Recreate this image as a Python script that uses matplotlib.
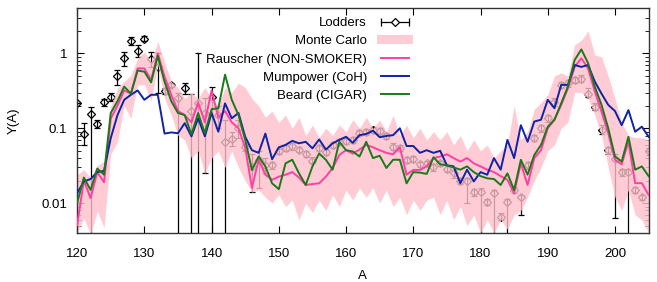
import numpy as np
import matplotlib
matplotlib.use('Agg')
import matplotlib.pyplot as plt
from matplotlib.lines import Line2D
from matplotlib.patches import Patch
from matplotlib.legend_handler import HandlerLine2D

plt.rcParams['font.family'] = ['Liberation Sans', 'DejaVu Sans']

# mass number A = 120 ... 205
A = np.arange(120, 206)

rauscher = [0.0051, 0.020, 0.0117, 0.026, 0.019, 0.135, 0.20, 0.32, 0.29, 0.63,
            0.63, 0.44, 1.0, 0.49, 0.28, 0.17, 0.15, 0.12, 0.22, 0.12,
            0.32, 0.14, 0.17, 0.12, 0.10,
            0.055, 0.016, 0.038, 0.024, 0.0205, 0.0226, 0.024, 0.026, 0.022, 0.0175,
            0.018, 0.0184, 0.0226, 0.0295, 0.044, 0.051, 0.046, 0.052, 0.06, 0.0557,
            0.051, 0.047, 0.045, 0.0557, 0.024, 0.0278, 0.0278, 0.031,
            0.04, 0.042, 0.045, 0.04, 0.036, 0.04, 0.034, 0.031, 0.028, 0.026,
            0.023, 0.0205, 0.0137, 0.034, 0.0175, 0.04, 0.051, 0.1, 0.13, 0.205,
            0.34, 0.66, 0.86, 0.63, 0.31, 0.167, 0.086, 0.038, 0.033, 0.066,
            0.0185, 0.0185, 0.0129]

mumpower = [0.0136, 0.0195, 0.021, 0.026, 0.027, 0.074, 0.15, 0.24, 0.28, 0.32,
            0.24, 0.28, 0.28, 0.085, 0.088, 0.086, 0.117, 0.078, 0.136, 0.078,
            0.16, 0.09, 0.215, 0.136, 0.16,
            0.077, 0.051, 0.047, 0.085, 0.0386, 0.0557, 0.06, 0.068, 0.063, 0.066,
            0.054, 0.071, 0.052, 0.063, 0.07, 0.077, 0.064, 0.081, 0.084, 0.093,
            0.076, 0.079, 0.081, 0.1, 0.058, 0.058, 0.047, 0.051,
            0.047, 0.05, 0.032, 0.031, 0.0185, 0.028, 0.0195, 0.026, 0.024, 0.040,
            0.028, 0.07, 0.040, 0.11, 0.066, 0.123, 0.13, 0.24, 0.185, 0.38,
            0.38, 0.70, 0.66, 0.70, 0.42, 0.29, 0.205, 0.17, 0.11, 0.175,
            0.09, 0.105, 0.077]

beard = [0.010, 0.022, 0.015, 0.029, 0.024, 0.16, 0.23, 0.36, 0.29, 0.59,
         0.57, 0.41, 0.93, 0.42, 0.23, 0.16, 0.15, 0.083, 0.16, 0.086,
         0.18, 0.185, 0.52, 0.24, 0.15,
         0.07, 0.0278, 0.042, 0.031, 0.0184, 0.0154, 0.034, 0.038, 0.025, 0.0175,
         0.031, 0.046, 0.038, 0.028, 0.066, 0.051, 0.049, 0.042, 0.066, 0.04,
         0.043, 0.0295, 0.038, 0.038, 0.0184, 0.026, 0.0256, 0.0246,
         0.041, 0.033, 0.032, 0.03, 0.028, 0.031, 0.026, 0.023, 0.0215, 0.021,
         0.0175, 0.025, 0.015, 0.038, 0.024, 0.044, 0.06, 0.105, 0.13, 0.215,
         0.36, 0.815, 1.13, 0.74, 0.36, 0.205, 0.1, 0.042, 0.036, 0.077,
         0.028, 0.031, 0.023]

mc_low = [0.004, 0.0063, 0.0038, 0.0078, 0.0047, 0.045, 0.066, 0.2, 0.136, 0.38,
          0.38, 0.23, 0.70, 0.25, 0.15, 0.08, 0.07, 0.04, 0.05, 0.025,
          0.04, 0.05, 0.03, 0.05, 0.03,
          0.02, 0.014, 0.015, 0.012, 0.01, 0.013, 0.009, 0.011, 0.006, 0.01,
          0.0075, 0.011, 0.008, 0.013, 0.009, 0.015, 0.011, 0.016, 0.012, 0.016,
          0.01, 0.015, 0.009, 0.012, 0.007, 0.011, 0.008, 0.011,
          0.012, 0.007, 0.011, 0.006, 0.009, 0.005, 0.007, 0.004, 0.006, 0.004,
          0.006, 0.0045, 0.007, 0.008, 0.012, 0.02, 0.03, 0.05, 0.06, 0.1,
          0.12, 0.3, 0.3, 0.25, 0.15, 0.08, 0.03, 0.012, 0.008, 0.015,
          0.007, 0.006, 0.004]

mc_high = [0.024, 0.028, 0.022, 0.032, 0.036, 0.2, 0.34, 0.42, 0.51, 0.86,
           1.05, 0.77, 1.43, 0.77, 0.42, 0.35, 0.25, 0.30, 0.25, 0.35,
           0.25, 0.2, 0.35, 0.3, 0.4,
           0.35, 0.25, 0.2, 0.14, 0.17, 0.12, 0.15, 0.1, 0.14, 0.08,
           0.11, 0.075, 0.1, 0.08, 0.11, 0.09, 0.13, 0.1, 0.14, 0.1,
           0.13, 0.09, 0.15, 0.08, 0.11, 0.075, 0.1, 0.07,
           0.09, 0.07, 0.09, 0.06, 0.08, 0.05, 0.07, 0.05, 0.06, 0.04,
           0.05, 0.06, 0.2, 0.07, 0.09, 0.18, 0.22, 0.28, 0.5, 0.55,
           0.5, 1.3, 1.5, 2.0, 0.95, 0.9, 0.5, 0.25, 0.12, 0.08,
           0.075, 0.075, 0.07]

# Lodders abundances and error-bar bounds
lod_y = [0.215, 0.085, 0.154, 0.114, 0.222, 0.26, 0.50, 0.86, 1.47, 1.08,
         1.58, 0.84, 0.66, 0.31, 0.38, 0.25, 0.34, 0.17, 0.215, 0.16,
         0.26, 0.15, 0.066, 0.073, 0.10,
         0.056, 0.03, 0.038, 0.032, 0.032, 0.05, 0.055, 0.058, 0.052, 0.045,
         0.037, 0.055, 0.048, 0.06, 0.066, 0.068, 0.07, 0.086, 0.09, 0.095,
         0.092, 0.078, 0.057, 0.054, 0.038, 0.039, 0.033, 0.034,
         0.03, 0.034, 0.029, 0.025, 0.02, 0.0195, 0.014, 0.014, 0.0105, 0.0137,
         0.0066, 0.0105, 0.015, 0.012, 0.032, 0.074, 0.1, 0.136, 0.227, 0.38,
         0.40, 0.44, 0.46, 0.29, 0.195, 0.095, 0.051, 0.039, 0.026, 0.026,
         0.015, 0.012, 0.049]

lod_lo = [0.215, 0.06, 1e-4, 0.1, 0.2, 0.23, 0.38, 0.68, 1.3, 0.9,
          1.45, 0.66, 0.3, 0.29, 0.36, 1e-4, 0.29, 1e-4, 1e-4, 0.025,
          1e-4, 0.1, 1e-4, 0.058, 0.075,
          0.05, 0.014, 0.016, 0.025, 0.029, 0.045, 0.05, 0.052, 0.048, 0.041,
          0.034, 0.05, 0.044, 0.054, 0.06, 0.062, 0.064, 0.078, 0.082, 0.086,
          0.084, 0.071, 0.052, 0.049, 0.034, 0.035, 0.03, 0.031,
          0.027, 0.031, 0.026, 0.022, 0.018, 0.01, 0.0126, 1e-4, 0.0095, 1e-4,
          0.006, 1e-4, 0.0135, 0.007, 0.029, 0.067, 0.09, 0.122, 0.2, 0.34,
          0.36, 0.4, 0.41, 0.26, 0.175, 0.085, 0.046, 0.0063, 0.023, 1e-4,
          0.0135, 0.011, 0.044]

lod_hi = [0.215, 0.117, 0.19, 0.13, 0.245, 0.3, 0.6, 1.05, 1.65, 1.3,
          1.7, 1.05, 1.0, 0.34, 0.4, 0.3, 0.40, 0.29, 1.0, 0.25,
          0.36, 0.2, 0.13, 0.088, 0.13,
          0.062, 0.045, 0.05, 0.04, 0.035, 0.055, 0.06, 0.064, 0.057, 0.05,
          0.041, 0.06, 0.053, 0.066, 0.073, 0.075, 0.077, 0.095, 0.099, 0.105,
          0.101, 0.086, 0.063, 0.059, 0.042, 0.043, 0.036, 0.037,
          0.033, 0.037, 0.032, 0.028, 0.022, 0.022, 0.0154, 0.016, 0.0115, 0.015,
          0.0073, 0.0115, 0.0165, 0.013, 0.035, 0.081, 0.11, 0.15, 0.25, 0.42,
          0.44, 0.48, 0.51, 0.34, 0.215, 0.11, 0.056, 0.045, 0.029, 0.029,
          0.0165, 0.013, 0.054]

pink = '#ff3fa4'
blue = '#0f23a5'
green = '#1a7a1a'
band = '#ffc0cb'

fig = plt.figure(figsize=(6.57, 2.82), dpi=100)
ax = fig.add_axes([0.1174, 0.1738, 0.8698, 0.7968])

y = np.array(lod_y)
yerr = [y - np.array(lod_lo), np.array(lod_hi) - y]
ax.errorbar(A, y, yerr=yerr, fmt='D', ms=4.5, mfc='none', mec='black', mew=0.9,
            ecolor='black', elinewidth=0.9, capsize=2.5, capthick=0.9, zorder=1)

ax.fill_between(A, mc_low, mc_high, color=band, alpha=0.8, lw=0, zorder=2)
ax.plot(A, rauscher, color=pink, lw=1.4, zorder=3)
ax.plot(A, mumpower, color=blue, lw=1.4, zorder=4)
ax.plot(A, beard, color=green, lw=1.4, zorder=5)

ax.set_yscale('log')
ax.set_xlim(120, 205)
ax.set_ylim(0.004, 4)
ax.set_xticks(range(120, 201, 10))
ax.set_yticks([0.01, 0.1, 1])
ax.set_yticklabels(['0.01', '0.1', '1'])
ax.tick_params(which='both', direction='in', top=True, right=True, labelsize=9.5)
ax.tick_params(which='major', length=5, width=0.8)
ax.tick_params(which='minor', length=3, width=0.6)
ax.tick_params(axis='x', pad=11)
ax.tick_params(axis='y', pad=7)
for s in ax.spines.values():
    s.set_linewidth(1.0)
    s.set_color('#333333')
ax.set_xlabel('A', fontsize=9.5, labelpad=7)
ax.set_ylabel('Y(A)', fontsize=9.5, labelpad=16)

# legend: labels right-aligned, handles on the right side
lod_line = Line2D([], [], color='black', lw=0.9, marker='|', ms=6, mew=0.9)
lod_mark = Line2D([], [], ls='none', marker='D', ms=4.5, mfc='white', mec='black', mew=0.9)
handles = [(lod_line, lod_mark),
           Patch(facecolor=band, alpha=0.8, edgecolor='none'),
           Line2D([], [], color=pink, lw=1.4),
           Line2D([], [], color=blue, lw=1.4),
           Line2D([], [], color=green, lw=1.4)]
labels = ['Lodders', 'Monte Carlo', 'Rauscher (NON-SMOKER)', 'Mumpower (CoH)', 'Beard (CIGAR)']
leg = ax.legend(handles, labels, loc='upper right', bbox_to_anchor=(413 / 657, 1 - 17 / 282),
                bbox_transform=fig.transFigure, frameon=False, markerfirst=False,
                fontsize=9.5, handlelength=2.7, handletextpad=0.8, labelspacing=0.45,
                borderpad=0, borderaxespad=0, numpoints=2,
                handler_map={lod_mark: HandlerLine2D(numpoints=1)})
leg.set_zorder(10)

fig.savefig('out.png', dpi=100)
